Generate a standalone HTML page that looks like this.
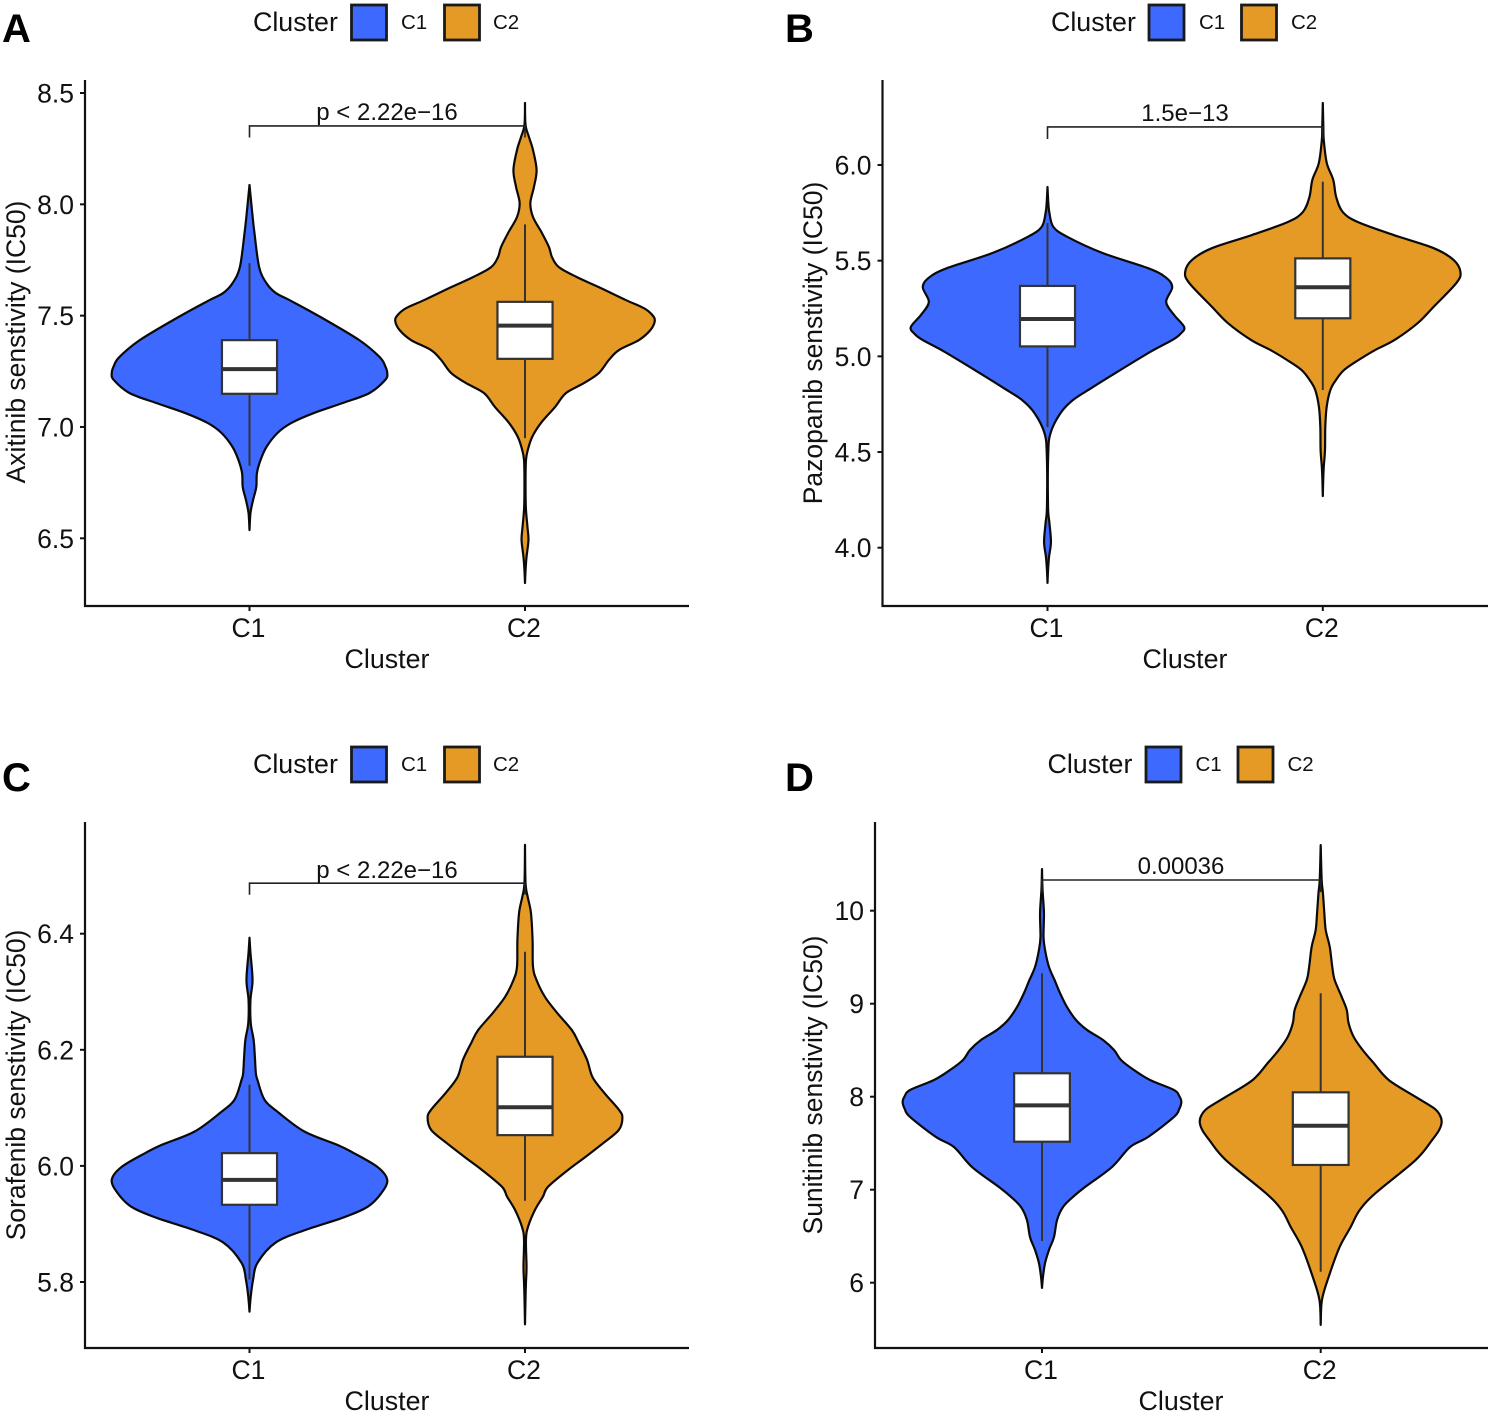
<!DOCTYPE html>
<html lang="en">
<head>
<meta charset="utf-8">
<title>Drug sensitivity by cluster</title>
<style>
html,body{margin:0;padding:0;background:#fff;}
svg{display:block;font-family:"Liberation Sans",sans-serif;}
</style>
</head>
<body>
<svg id="figure" xmlns="http://www.w3.org/2000/svg" width="1490" height="1414" viewBox="0 0 1490 1414"></svg>
<script>
// ---- Chart data ----
const categories = ["C1", "C2"];

// Panel A: Axitinib
const axitinibTicks = [6.5, 7.0, 7.5, 8.0, 8.5];
const axitinibTickLabels = ["6.5", "7.0", "7.5", "8.0", "8.5"];
const axitinibC1Values = [8.087,7.961,7.871,7.718,7.646,7.602,7.570,7.494,7.390,7.314,7.274,7.242,7.211,7.152,7.107,7.062,7.018,6.973,6.910,6.851,6.793,6.730,6.672,6.613,6.537];
const axitinibC1Density = [0,.02,.036,.07,.123,.19,.29,.515,.797,.945,.985,1,.985,.87,.674,.464,.304,.203,.123,.08,.054,.049,.026,.007,0];
const axitinibC2Values = [8.455,8.356,8.302,8.244,8.154,8.078,8.006,7.943,7.871,7.808,7.763,7.718,7.673,7.628,7.570,7.534,7.503,7.476,7.435,7.390,7.345,7.301,7.242,7.197,7.152,7.089,7.018,6.955,6.896,6.851,6.761,6.640,6.550,6.492,6.416,6.357,6.299];
const axitinibC2Density = [0,.004,.029,.058,.084,.065,.039,.058,.123,.174,.196,.246,.377,.536,.732,.862,.924,.942,.91,.826,.681,.609,.536,.428,.297,.217,.116,.052,.02,.007,.004,.006,.018,.025,.011,.004,0];
const axitinibC1Box = [6.826,7.149,7.26,7.39,7.736];
const axitinibC2Box = [6.95,7.306,7.455,7.562,7.91];
const axitinibBracket = [8.352, 8.30, 8.30];
const axitinibPValue = "p < 2.22e\u221216";

// Panel B: Pazopanib
const pazopanibTicks = [4.0, 4.5, 5.0, 5.5, 6.0];
const pazopanibTickLabels = ["4.0", "4.5", "5.0", "5.5", "6.0"];
const pazopanibC1Values = [5.885,5.801,5.749,5.676,5.624,5.540,5.462,5.415,5.362,5.284,5.216,5.153,5.117,5.085,5.023,4.903,4.835,4.772,4.704,4.599,4.484,4.213,4.129,4.030,3.951,3.883,3.816];
const pazopanibC1Density = [0,.006,.014,.043,.145,.40,.726,.855,.906,.862,.92,.993,.965,.906,.746,.471,.32,.185,.095,.022,.005,.004,.014,.025,.011,.004,0];
const pazopanibC2Values = [6.324,6.199,6.131,6.01,5.922,5.833,5.754,5.702,5.634,5.566,5.504,5.441,5.383,5.258,5.174,5.085,5.033,4.981,4.929,4.876,4.824,4.735,4.631,4.511,4.422,4.354,4.270];
const pazopanibC2Density = [0,.004,.007,.029,.076,.097,.145,.254,.515,.804,.95,1,.97,.804,.69,.52,.38,.26,.155,.095,.055,.028,.018,.016,.007,.003,0];
const pazopanibC1Box = [4.631,5.052,5.195,5.368,5.697];
const pazopanibC2Box = [4.824,5.199,5.361,5.512,5.913];
const pazopanibBracket = [6.199, 6.136, 6.136];
const pazopanibPValue = "1.5e\u221213";

// Panel C: Sorafenib
const sorafenibTicks = [5.8, 6.0, 6.2, 6.4];
const sorafenibTickLabels = ["5.8", "6.0", "6.2", "6.4"];
const sorafenibC1Values = [6.393,6.367,6.320,6.286,6.246,6.217,6.188,6.160,6.148,6.114,6.092,6.059,6.036,6.023,5.998,5.976,5.954,5.930,5.911,5.890,5.868,5.833,5.804,5.775,5.749];
const sorafenibC1Density = [0,.007,.022,.007,.009,.03,.039,.046,.058,.109,.21,.40,.64,.75,.93,1,.96,.86,.68,.41,.19,.058,.026,.009,0];
const sorafenibC2Values = [6.553,6.487,6.463,6.436,6.389,6.343,6.320,6.291,6.264,6.234,6.212,6.183,6.153,6.126,6.097,6.083,6.062,6.040,6.016,5.993,5.964,5.947,5.924,5.895,5.873,5.826,5.799,5.775,5.727];
const sorafenibC2Density = [0,.004,.02,.043,.055,.058,.084,.145,.232,.34,.39,.45,.49,.575,.681,.707,.681,.572,.442,.312,.167,.13,.072,.022,.007,.011,.007,.004,0];
const sorafenibC1Box = [5.804,5.933,5.976,6.022,6.140];
const sorafenibC2Box = [5.940,6.053,6.101,6.188,6.369];
const sorafenibBracket = [6.487, 6.467, 6.467];
const sorafenibPValue = "p < 2.22e\u221216";

// Panel D: Sunitinib
const sunitinibTicks = [6, 7, 8, 9, 10];
const sunitinibTickLabels = ["6", "7", "8", "9", "10"];
const sunitinibC1Values = [10.448,10.223,9.975,9.717,9.577,9.395,9.255,9.115,8.965,8.825,8.718,8.610,8.502,8.395,8.287,8.180,8.072,8.007,7.943,7.868,7.782,7.567,7.459,7.244,7.029,6.922,6.814,6.674,6.491,6.352,6.212,6.062,5.944];
const sunitinibC1Density = [0,.004,.014,.011,.022,.05,.09,.129,.179,.244,.323,.438,.517,.567,.66,.775,.947,.985,1,.985,.947,.761,.632,.502,.309,.222,.151,.108,.086,.05,.022,.007,0];
const sunitinibC2Values = [10.706,10.330,10.190,9.975,9.792,9.610,9.395,9.255,9.072,8.932,8.792,8.642,8.502,8.362,8.180,7.997,7.878,7.803,7.728,7.642,7.535,7.320,6.965,6.782,6.599,6.384,6.062,5.814,5.546];
const sunitinibC2Density = [0,.007,.016,.026,.036,.065,.083,.10,.151,.187,.2,.237,.301,.38,.488,.682,.811,.855,.868,.85,.80,.682,.395,.28,.215,.136,.057,.009,0];
const sunitinibC1Box = [6.448,7.516,7.907,8.252,9.327];
const sunitinibC2Box = [6.118,7.266,7.688,8.047,9.112];
const sunitinibBracket = [10.33, 10.20, 10.20];
const sunitinibPValue = "0.00036";

// ---- Drawing ----
const NS = "http://www.w3.org/2000/svg";
const svg = document.getElementById("figure");
const FILL = { C1: "#3D69FE", C2: "#E69A26" };

function make(tag, attrs, parent) {
  const el = document.createElementNS(NS, tag);
  for (const k in attrs) el.setAttribute(k, attrs[k]);
  parent.appendChild(el);
  return el;
}

function smoothSide(pts) {
  let d = "";
  for (let i = 0; i < pts.length - 1; i++) {
    const p0 = pts[i - 1] || pts[i], p1 = pts[i], p2 = pts[i + 1], p3 = pts[i + 2] || p2;
    const c1 = [p1[0] + (p2[0] - p0[0]) / 6, p1[1] + (p2[1] - p0[1]) / 6];
    const c2 = [p2[0] - (p3[0] - p1[0]) / 6, p2[1] - (p3[1] - p1[1]) / 6];
    d += "C" + c1[0].toFixed(2) + " " + c1[1].toFixed(2) + " " + c2[0].toFixed(2) + " " + c2[1].toFixed(2) + " " + p2[0].toFixed(2) + " " + p2[1].toFixed(2);
  }
  return d;
}

function drawLegend(p, group) {
  const g = make("g", {}, group);
  
  
  const title = make("text", { x: p.legendTitleX, y: p.legendY + 9, "font-size": 26.8, fill: "#111" }, g);
  title.textContent = "Cluster";
  
  
  categories.forEach(function (cat, i) {
    const sw = make("rect", { x: p.legendSwatchX[i], y: p.legendY - 17, width: 35, height: 35, fill: FILL[cat], stroke: "#1a1a1a", "stroke-width": 2.8 }, g);
    
    
    const lb = make("text", { x: p.legendLabelX[i], y: p.legendY + 7, "font-size": 20.5, fill: "#111" }, g);
    lb.textContent = cat;
    
    
  });
}

function drawPanel(p) {
  const panel = make("g", {}, svg);
  
  

  const yScale = function (v) {
    return p.rangeY[0] + (v - p.domainY[0]) * (p.rangeY[1] - p.rangeY[0]) / (p.domainY[1] - p.domainY[0]);
  };
  const xScale = function (i) {
    return p.catX0 + i * p.catStep;
  };
  const halfWidth = function (d) {
    return d * p.catStep / 2;
  };

  const letter = make("text", { x: p.letterX, y: p.letterY, "font-size": 40, "font-weight": "bold", fill: "#000" }, panel);
  letter.textContent = p.letter;
  
  

  drawLegend(p, panel);

  // violins and boxes
  categories.forEach(function (cat, i) {
    const cx = xScale(i);
    const vals = p.values[i], dens = p.density[i], box = p.boxes[i];
    const right = vals.map(function (v, j) { return [cx + halfWidth(dens[j]), yScale(v)]; });
    const left = vals.map(function (v, j) { return [cx - halfWidth(dens[j]), yScale(v)]; }).reverse();
    const d = "M" + right[0][0].toFixed(2) + " " + right[0][1].toFixed(2) + smoothSide(right) + "L" + left[0][0].toFixed(2) + " " + left[0][1].toFixed(2) + smoothSide(left) + "Z";
    const violin = make("path", { d: d, fill: FILL[cat], stroke: "#0a0a0a", "stroke-width": 2.2, "stroke-linejoin": "round" }, panel);
    
    

    const whisker = make("line", { x1: cx, x2: cx, y1: yScale(box[4]), y2: yScale(box[0]), stroke: "#333", "stroke-width": 2 }, panel);
    
    

    const boxW = p.catStep * 0.2;
    const rect = make("rect", { x: cx - boxW / 2, y: yScale(box[3]), width: boxW, height: yScale(box[1]) - yScale(box[3]), fill: "#fff", stroke: "#333", "stroke-width": 2.2 }, panel);
    
    

    const median = make("line", { x1: cx - boxW / 2, x2: cx + boxW / 2, y1: yScale(box[2]), y2: yScale(box[2]), stroke: "#333", "stroke-width": 4 }, panel);
    
    
  });

  // significance bracket
  const bx1 = xScale(0), bx2 = xScale(1);
  const by = yScale(p.bracket[0]);
  const bracket = make("path", { d: "M" + bx1 + " " + yScale(p.bracket[1]) + "V" + by + "H" + bx2 + "V" + yScale(p.bracket[2]), fill: "none", stroke: "#222", "stroke-width": 1.6 }, panel);
  
  
  const ptxt = make("text", { x: p.titleX, y: by - p.pOffset, "font-size": 24, "text-anchor": "middle", fill: "#111" }, panel);
  ptxt.textContent = p.pValue;
  
  

  // axes
  const yAxis = make("line", { x1: p.axisX, x2: p.axisX, y1: p.axisTop, y2: p.axisBottom + 1, stroke: "#111", "stroke-width": 2.2 }, panel);
  
  
  const xAxis = make("line", { x1: p.axisX - 1, x2: p.axisRight, y1: p.axisBottom, y2: p.axisBottom, stroke: "#111", "stroke-width": 2.2 }, panel);
  
  

  p.ticks.forEach(function (t, i) {
    const y = yScale(t);
    const tick = make("line", { x1: p.axisX - 5, x2: p.axisX, y1: y, y2: y, stroke: "#111", "stroke-width": 2 }, panel);
    
    
    const lb = make("text", { x: p.axisX - 11, y: y + 9.5, "font-size": 26.5, "text-anchor": "end", fill: "#111" }, panel);
    lb.textContent = p.tickLabels[i];
    
    
  });

  categories.forEach(function (cat, i) {
    const x = xScale(i);
    const tick = make("line", { x1: x, x2: x, y1: p.axisBottom, y2: p.axisBottom + 5, stroke: "#111", "stroke-width": 2 }, panel);
    
    
    const lb = make("text", { x: x - 1, y: p.axisBottom + 31, "font-size": 26.5, "text-anchor": "middle", fill: "#111" }, panel);
    lb.textContent = cat;
    
    
  });

  const xTitle = make("text", { x: p.titleX, y: p.axisBottom + 62, "font-size": 26.8, "text-anchor": "middle", fill: "#111" }, panel);
  xTitle.textContent = "Cluster";
  
  

  const yTitle = make("text", { x: 0, y: 0, "font-size": 26.5, "text-anchor": "middle", fill: "#111", transform: "translate(" + p.yTitleX + " " + p.yTitleY + ") rotate(-90)" }, panel);
  yTitle.textContent = p.yTitle;
  
  
}

drawPanel({
  letter: "A", letterX: 2, letterY: 42,
  legendTitleX: 253, legendY: 22, legendSwatchX: [351.5, 444.5], legendLabelX: [401, 493],
  axisX: 85, axisTop: 80, axisBottom: 606, axisRight: 689,
  domainY: [6.5, 8.5], rangeY: [538.3, 93],
  catX0: 249.5, catStep: 275.5, titleX: 387, pOffset: 6,
  yTitleX: 25, yTitleY: 342, yTitle: "Axitinib senstivity (IC50)",
  ticks: axitinibTicks, tickLabels: axitinibTickLabels,
  values: [axitinibC1Values, axitinibC2Values], density: [axitinibC1Density, axitinibC2Density],
  boxes: [axitinibC1Box, axitinibC2Box], bracket: axitinibBracket, pValue: axitinibPValue
});
drawPanel({
  letter: "B", letterX: 785, letterY: 42,
  legendTitleX: 1051, legendY: 22, legendSwatchX: [1149, 1241.5], legendLabelX: [1199, 1291],
  axisX: 882.5, axisTop: 80, axisBottom: 606, axisRight: 1488,
  domainY: [4.0, 6.0], rangeY: [547.7, 165],
  catX0: 1047.5, catStep: 275.3, titleX: 1185, pOffset: 6,
  yTitleX: 822, yTitleY: 343, yTitle: "Pazopanib senstivity (IC50)",
  ticks: pazopanibTicks, tickLabels: pazopanibTickLabels,
  values: [pazopanibC1Values, pazopanibC2Values], density: [pazopanibC1Density, pazopanibC2Density],
  boxes: [pazopanibC1Box, pazopanibC2Box], bracket: pazopanibBracket, pValue: pazopanibPValue
});
drawPanel({
  letter: "C", letterX: 2, letterY: 791,
  legendTitleX: 253, legendY: 764, legendSwatchX: [351.5, 444.5], legendLabelX: [401, 493],
  axisX: 85, axisTop: 822, axisBottom: 1348, axisRight: 689,
  domainY: [5.8, 6.4], rangeY: [1282, 933.7],
  catX0: 249.5, catStep: 275.5, titleX: 387, pOffset: 5,
  yTitleX: 25, yTitleY: 1085, yTitle: "Sorafenib senstivity (IC50)",
  ticks: sorafenibTicks, tickLabels: sorafenibTickLabels,
  values: [sorafenibC1Values, sorafenibC2Values], density: [sorafenibC1Density, sorafenibC2Density],
  boxes: [sorafenibC1Box, sorafenibC2Box], bracket: sorafenibBracket, pValue: sorafenibPValue
});
drawPanel({
  letter: "D", letterX: 785, letterY: 791,
  legendTitleX: 1047.5, legendY: 764, legendSwatchX: [1146, 1238], legendLabelX: [1195.5, 1287.5],
  axisX: 875, axisTop: 822, axisBottom: 1348, axisRight: 1488,
  domainY: [6, 10], rangeY: [1282.7, 910.7],
  catX0: 1042, catStep: 278.7, titleX: 1181, pOffset: 6,
  yTitleX: 822, yTitleY: 1085, yTitle: "Sunitinib senstivity (IC50)",
  ticks: sunitinibTicks, tickLabels: sunitinibTickLabels,
  values: [sunitinibC1Values, sunitinibC2Values], density: [sunitinibC1Density, sunitinibC2Density],
  boxes: [sunitinibC1Box, sunitinibC2Box], bracket: sunitinibBracket, pValue: sunitinibPValue
});
</script>
</body>
</html>
